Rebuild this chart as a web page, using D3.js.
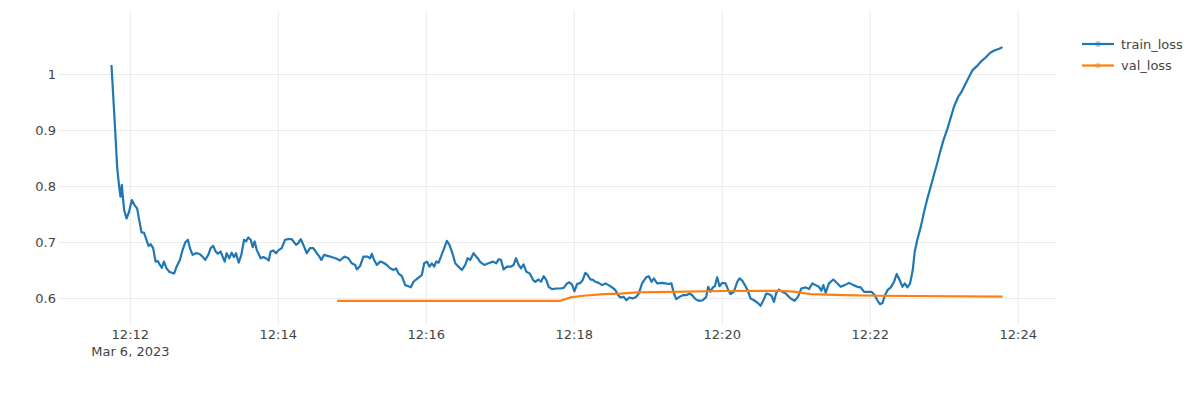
<!DOCTYPE html>
<html>
<head>
<meta charset="utf-8">
<script src="https://cdn.jsdelivr.net/npm/d3@7"></script>
<style>
  html, body { margin: 0; padding: 0; background: #fff; }
  svg { display: block; }
  text { font-family: "DejaVu Sans", Verdana, sans-serif; fill: #444; }
</style>
</head>
<body>
<svg id="chart" width="1200" height="393"></svg>
<script>
// ---- data (seconds after 12:00:00 on Mar 6, 2023) ----
const trainSec = [705.1,707.8,709.7,711.3,712.4,713.5,714.3,715.4,717.3,719.4,721.6,723.8,725.9,727.6,729.5,731.4,733.0,735.2,737.0,738.9,740.9,742.7,744.4,746.0,747.6,749.8,751.9,754.1,756.0,757.9,760.6,762.8,764.9,767.1,768.7,770.9,773.6,776.3,779.0,781.1,783.6,785.5,787.6,789.6,791.4,793.6,796.9,798.5,800.6,802.6,804.4,806.1,808.3,810.4,812.6,814.2,816.0,818.0,819.6,821.2,822.9,826.1,828.2,830.4,832.6,834.2,836.3,838.5,840.4,843.2,845.8,848.5,851.3,854.8,856.6,858.6,860.7,863.5,866.1,868.8,871.6,873.7,875.3,877.5,882.4,887.8,890.5,894.0,897.2,900.0,902.7,904.1,906.7,909.4,912.7,914.9,916.2,918.1,920.3,923.0,925.7,928.4,931.1,933.8,936.0,937.8,940.6,943.3,946.0,947.9,950.0,953.3,956.8,958.7,960.9,963.0,964.9,966.8,968.4,970.3,972.3,974.4,977.1,979.2,982.0,983.9,986.5,989.3,992.0,993.9,996.0,998.7,1002.0,1004.2,1007.4,1010.9,1014.5,1017.2,1019.0,1021.0,1023.1,1025.8,1029.1,1031.2,1033.2,1035.3,1037.2,1039.3,1041.5,1044.2,1047.0,1048.8,1051.5,1053.5,1055.6,1057.8,1059.6,1062.4,1065.9,1069.1,1071.8,1074.6,1076.4,1078.6,1080.5,1082.7,1085.4,1087.2,1089.4,1091.3,1093.5,1095.3,1097.5,1100.2,1103.0,1105.7,1108.3,1111.6,1113.8,1116.0,1117.8,1120.5,1122.7,1125.1,1127.8,1130.6,1132.7,1135.4,1138.7,1140.8,1143.0,1144.9,1147.6,1151.7,1154.4,1157.0,1159.2,1161.1,1163.1,1165.7,1168.4,1171.2,1173.9,1176.0,1178.7,1181.4,1184.7,1187.4,1189.0,1190.9,1192.8,1194.4,1196.3,1198.2,1200.4,1203.1,1205.3,1207.1,1209.8,1212.6,1214.4,1216.6,1219.3,1221.5,1223.4,1226.1,1228.8,1231.5,1234.2,1236.1,1238.2,1240.4,1242.3,1244.2,1246.3,1249.1,1251.8,1255.9,1259.1,1261.8,1264.5,1268.0,1270.7,1273.5,1276.2,1278.8,1280.8,1282.4,1284.3,1286.9,1290.5,1293.8,1296.4,1299.7,1303.2,1306.8,1310.0,1312.7,1315.4,1318.6,1321.4,1324.1,1326.2,1328.3,1330.3,1332.2,1334.4,1337.1,1339.7,1341.9,1344.1,1346.5,1348.4,1350.6,1352.7,1354.9,1356.5,1358.7,1361.4,1364.1,1366.8,1369.5,1372.2,1375.0,1377.1,1379.8,1383.1,1385.8,1388.4,1391.7,1394.4,1397.1,1400.6,1403.4,1406.9,1410.1,1414.2,1417.7,1421.0,1425.0,1427.7];
const trainLoss = [1.016,0.912,0.834,0.799,0.781,0.802,0.781,0.757,0.742,0.754,0.775,0.766,0.760,0.739,0.717,0.717,0.707,0.693,0.696,0.689,0.665,0.666,0.659,0.654,0.665,0.653,0.647,0.645,0.644,0.656,0.668,0.686,0.699,0.704,0.689,0.677,0.680,0.679,0.674,0.668,0.677,0.689,0.693,0.683,0.679,0.683,0.665,0.680,0.671,0.681,0.673,0.680,0.663,0.677,0.704,0.701,0.708,0.704,0.691,0.701,0.686,0.671,0.673,0.671,0.667,0.683,0.685,0.680,0.685,0.689,0.704,0.705,0.705,0.695,0.698,0.705,0.695,0.680,0.689,0.689,0.680,0.674,0.668,0.677,0.674,0.670,0.667,0.674,0.671,0.662,0.659,0.651,0.657,0.674,0.674,0.671,0.679,0.668,0.659,0.665,0.663,0.659,0.653,0.650,0.653,0.644,0.639,0.623,0.621,0.619,0.629,0.635,0.641,0.662,0.665,0.656,0.662,0.656,0.665,0.663,0.674,0.686,0.702,0.695,0.677,0.662,0.656,0.650,0.659,0.671,0.668,0.680,0.671,0.664,0.659,0.662,0.665,0.662,0.669,0.668,0.651,0.656,0.656,0.659,0.671,0.659,0.653,0.660,0.647,0.644,0.632,0.629,0.633,0.629,0.639,0.632,0.620,0.616,0.617,0.617,0.618,0.626,0.628,0.624,0.612,0.625,0.627,0.632,0.645,0.641,0.633,0.633,0.629,0.627,0.623,0.626,0.623,0.618,0.614,0.605,0.601,0.602,0.596,0.601,0.599,0.602,0.608,0.626,0.637,0.639,0.629,0.635,0.626,0.627,0.626,0.625,0.626,0.609,0.598,0.602,0.605,0.605,0.608,0.605,0.598,0.595,0.596,0.602,0.620,0.611,0.619,0.621,0.637,0.621,0.627,0.626,0.614,0.607,0.611,0.629,0.635,0.631,0.621,0.611,0.599,0.596,0.592,0.586,0.598,0.608,0.607,0.604,0.593,0.609,0.615,0.611,0.608,0.599,0.595,0.602,0.617,0.619,0.616,0.626,0.623,0.620,0.613,0.623,0.609,0.626,0.633,0.626,0.620,0.623,0.627,0.623,0.620,0.619,0.611,0.611,0.611,0.605,0.596,0.589,0.591,0.604,0.614,0.619,0.629,0.643,0.633,0.620,0.626,0.619,0.626,0.650,0.683,0.705,0.727,0.754,0.778,0.799,0.821,0.843,0.861,0.882,0.903,0.923,0.942,0.959,0.968,0.980,0.995,1.007,1.014,1.022,1.030,1.038,1.042,1.045,1.048];
const valSec  = [888.1,1069.1,1077.2,1088.0,1104.3,1117.8,1131.4,1158.4,1200.4,1245.0,1258.5,1272.1,1299.1,1326.2,1427.7];
const valLoss = [0.595,0.595,0.601,0.604,0.607,0.608,0.610,0.611,0.6125,0.613,0.6115,0.607,0.605,0.604,0.6025];
const seriesNames = ["train_loss", "val_loss"];
const yTicks = [0.6, 0.7, 0.8, 0.9, 1];
const dateLabel = "Mar 6, 2023";

const toDate = s => new Date(2023, 2, 6, 12, 0, 0, Math.round(s * 1000));
const train = trainSec.map((s, i) => ({t: toDate(s), v: trainLoss[i]}));
const val = valSec.map((s, i) => ({t: toDate(s), v: valLoss[i]}));

const colors = ["#1f77b4", "#ff7f0e"];
const plot = {left: 58, right: 1056, top: 10, bottom: 325};

const svg = d3.select("#chart");

const tExt = d3.extent(trainSec.concat(valSec));
const pad = (tExt[1] - tExt[0]) * 0.06;
const x = d3.scaleTime()
  .domain([toDate(tExt[0] - pad), toDate(tExt[1] + pad)])
  .range([plot.left, plot.right]);
const y = d3.scaleLinear()
  .domain([0.5518, 1.1143])
  .range([plot.bottom, plot.top]);

// Y grid + labels
const yAxis = svg.append("g")
  .attr("transform", `translate(${plot.left},0)`)
  .call(d3.axisLeft(y).tickValues(yTicks).tickSize(-(plot.right - plot.left)).tickPadding(2).tickFormat(d3.format("~g")));
yAxis.select(".domain").remove();
yAxis.selectAll("line").attr("stroke", "#ebebeb").attr("stroke-width", 1);
yAxis.selectAll("text").style("font-size", "13px").attr("fill", "#444");

// X grid + labels
const xTickVals = x.ticks(d3.timeMinute.every(2));
const xAxis = svg.append("g")
  .attr("transform", `translate(0,${plot.bottom})`)
  .call(d3.axisBottom(x).tickValues(xTickVals).tickSize(-(plot.bottom - plot.top)).tickPadding(5).tickFormat(d3.timeFormat("%H:%M")));
xAxis.select(".domain").remove();
xAxis.selectAll("line").attr("stroke", "#ebebeb").attr("stroke-width", 1);
xAxis.selectAll("text").style("font-size", "13px").attr("fill", "#444");
xAxis.select(".tick text")
  .append("tspan").attr("x", 0).attr("dy", "1.3em").text(dateLabel);

// Lines
const line = d3.line().x(d => x(d.t)).y(d => y(d.v));
[train, val].forEach((data, i) => {
  svg.append("path")
    .datum(data)
    .attr("fill", "none")
    .attr("stroke", colors[i])
    .attr("stroke-width", 2.2)
    .attr("stroke-linejoin", "round")
    .attr("d", line);
});
// redraw train on top? Reference shows val over train at overlap: keep order val last.

// Legend
const leg = svg.append("g").attr("transform", "translate(1082,44)");
seriesNames.forEach((name, i) => {
  const g = leg.append("g").attr("transform", `translate(0,${i * 21.5})`);
  g.append("line").attr("x1", 0).attr("x2", 32).attr("y1", 0).attr("y2", 0)
    .attr("stroke", colors[i]).attr("stroke-width", 2.2);
  g.append("circle").attr("cx", 16).attr("cy", 0).attr("r", 3)
    .attr("fill", colors[i]).attr("opacity", 0.35);
  g.append("text").attr("x", 39).attr("y", 0).attr("dy", "0.35em")
    .style("font-size", "13px").text(name);
});
</script>
</body>
</html>
